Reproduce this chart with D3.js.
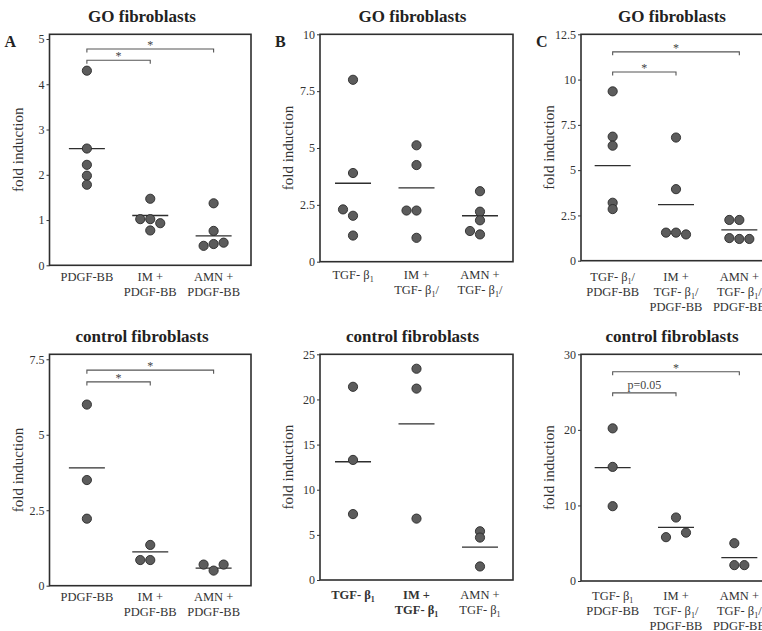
<!DOCTYPE html>
<html>
<head>
<meta charset="utf-8">
<script src="https://cdn.jsdelivr.net/npm/d3@7"></script>
<style>
  body { margin: 0; background: #fff; }
</style>
</head>
<body>
<div id="chart"></div>
<script>
// ---- data ----
// "_1" inside a label means a subscript 1

// A: GO fibroblasts, PDGF-BB
var goPdgfCats = [["PDGF-BB"], ["IM +", "PDGF-BB"], ["AMN +", "PDGF-BB"]];
var goPdgfValues = [[4.3, 2.58, 2.22, 1.98, 1.78], [1.47, 1.02, 1.02, 0.93, 0.77], [1.37, 0.76, 0.43, 0.47, 0.5]];
var goPdgfSlots = [[0, 0, 0, 0, 0], [0, -1, 0, 1, 0], [0, 0, -1, 0, 1]];
var goPdgfMeans = [2.58, 1.1, 0.65];
var goPdgfTicks = [0, 1, 2, 3, 4, 5];
var goPdgfSig = [[0, 2, 4.78, "*"], [0, 1, 4.53, "*"]];

// B: GO fibroblasts, TGF-b1
var goTgfCats = [["TGF- β_1"], ["IM +", "TGF- β_1/"], ["AMN +", "TGF- β_1/"]];
var goTgfValues = [[8.0, 3.9, 2.3, 2.02, 1.15], [5.12, 4.25, 2.25, 2.25, 1.05], [3.1, 2.2, 1.82, 1.35, 1.2]];
var goTgfSlots = [[0, 0, -1, 0, 0], [0, 0, -1, 0, 0], [0, 0, 0, -1, 0]];
var goTgfMeans = [3.45, 3.25, 2.02];
var goTgfTicks = [0, 2.5, 5, 7.5, 10];
var goTgfSig = [];

// C: GO fibroblasts, TGF-b1/PDGF-BB
var goBothCats = [["TGF- β_1/", "PDGF-BB"], ["IM +", "TGF- β_1/", "PDGF-BB"], ["AMN +", "TGF- β_1/", "PDGF-BB"]];
var goBothValues = [[9.35, 6.85, 6.35, 3.2, 2.85], [6.8, 3.95, 1.55, 1.55, 1.45], [2.25, 2.25, 1.25, 1.2, 1.2]];
var goBothSlots = [[0, 0, 0, 0, 0], [0, 0, -1, 0, 1], [-1, 0, -1, 0, 1]];
var goBothMeans = [5.25, 3.1, 1.7];
var goBothTicks = [0, 2.5, 5, 7.5, 10, 12.5];
var goBothSig = [[0, 2, 11.53, "*"], [0, 1, 10.42, "*"]];

// D: control fibroblasts, PDGF-BB
var ctlPdgfCats = [["PDGF-BB"], ["IM +", "PDGF-BB"], ["AMN +", "PDGF-BB"]];
var ctlPdgfValues = [[6.0, 3.5, 2.22], [1.35, 0.85, 0.85], [0.7, 0.5, 0.7]];
var ctlPdgfSlots = [[0, 0, 0], [0, -1, 0], [-1, 0, 1]];
var ctlPdgfMeans = [3.9, 1.12, 0.58];
var ctlPdgfTicks = [0, 2.5, 5, 7.5];
var ctlPdgfSig = [[0, 2, 7.14, "*"], [0, 1, 6.75, "*"]];

// E: control fibroblasts, TGF-b1
var ctlTgfCats = [["TGF- β_1"], ["IM +", "TGF- β_1"], ["AMN +", "TGF- β_1"]];
var ctlTgfValues = [[21.4, 13.3, 7.3], [23.4, 21.2, 6.8], [5.4, 4.7, 1.5]];
var ctlTgfSlots = [[0, 0, 0], [0, 0, 0], [0, 0, 0]];
var ctlTgfMeans = [13.1, 17.3, 3.65];
var ctlTgfTicks = [0, 5, 10, 15, 20, 25];
var ctlTgfSig = [];

// F: control fibroblasts, TGF-b1/PDGF-BB
var ctlBothCats = [["TGF- β_1", "PDGF-BB"], ["IM +", "TGF- β_1/", "PDGF-BB"], ["AMN +", "TGF- β_1/", "PDGF-BB"]];
var ctlBothValues = [[20.2, 15.1, 9.9], [8.4, 5.8, 6.4], [5.0, 2.1, 2.1]];
var ctlBothSlots = [[0, 0, 0], [0, -1, 1], [-0.5, -0.5, 0.5]];
var ctlBothMeans = [15.0, 7.1, 3.1];
var ctlBothTicks = [0, 10, 20, 30];
var ctlBothSig = [[0, 2, 27.7, "*"], [0, 1, 24.9, "p=0.05"]];

// ---- layout ----
var width = 762, height = 631;
var serif = "'Liberation Serif', 'Times New Roman', serif";

var svg = d3.select("#chart")
  .append("svg")
    .attr("width", width)
    .attr("height", height);

var panels = [
  {title: "GO fibroblasts", letter: "A", x0: 49.5, x1: 251, y0: 34.3, y1: 265.3, max: 5.104, pad: 0.59, labelY: 281,
   cats: goPdgfCats, values: goPdgfValues, slots: goPdgfSlots, means: goPdgfMeans, ticks: goPdgfTicks, sig: goPdgfSig},
  {title: "GO fibroblasts", letter: "B", x0: 320, x1: 513, y0: 34.3, y1: 261.7, max: 10, pad: 0.52, labelY: 279,
   cats: goTgfCats, values: goTgfValues, slots: goTgfSlots, means: goTgfMeans, ticks: goTgfTicks, sig: goTgfSig},
  {title: "GO fibroblasts", letter: "C", x0: 581, x1: 771, y0: 34.3, y1: 260.7, max: 12.5, pad: 0.5, labelY: 281,
   cats: goBothCats, values: goBothValues, slots: goBothSlots, means: goBothMeans, ticks: goBothTicks, sig: goBothSig},
  {title: "control fibroblasts", letter: "", x0: 49.5, x1: 251, y0: 354.3, y1: 585.7, max: 7.665, pad: 0.59, labelY: 601,
   cats: ctlPdgfCats, values: ctlPdgfValues, slots: ctlPdgfSlots, means: ctlPdgfMeans, ticks: ctlPdgfTicks, sig: ctlPdgfSig},
  {title: "control fibroblasts", letter: "", x0: 320, x1: 513, y0: 354.3, y1: 580, max: 25, pad: 0.52, labelY: 599, bold: [0, 1],
   cats: ctlTgfCats, values: ctlTgfValues, slots: ctlTgfSlots, means: ctlTgfMeans, ticks: ctlTgfTicks, sig: ctlTgfSig},
  {title: "control fibroblasts", letter: "", x0: 581, x1: 771, y0: 354.3, y1: 581, max: 30, pad: 0.5, labelY: 600,
   cats: ctlBothCats, values: ctlBothValues, slots: ctlBothSlots, means: ctlBothMeans, ticks: ctlBothTicks, sig: ctlBothSig}
];

var slotWidth = 10, meanHalf = 18;

// write a label line, turning "_1" into a small lowered 1
function writeLine(text, str) {
  var parts = str.split("_1");
  parts.forEach(function(p, i) {
    if (i > 0) {
      text.append("tspan").attr("font-size", 8).attr("dy", 3).text("1");
      if (p !== "") text.append("tspan").attr("dy", -3).text(p);
    } else if (p !== "") {
      text.append("tspan").text(p);
    }
  });
}

panels.forEach(function(p) {
  var g = svg.append("g");

  var x = d3.scalePoint()
    .domain(d3.range(p.cats.length))
    .range([p.x0, p.x1])
    .padding(p.pad);

  var y = d3.scaleLinear()
    .domain([0, p.max])
    .range([p.y1, p.y0]);

  // frame
  g.append("rect")
    .attr("x", p.x0)
    .attr("y", p.y0)
    .attr("width", p.x1 - p.x0)
    .attr("height", p.y1 - p.y0)
    .attr("fill", "none")
    .attr("stroke", "#2e2e2e")
    .attr("stroke-width", 1.6);

  // y axis
  var yAxis = d3.axisLeft(y)
    .tickValues(p.ticks)
    .tickSize(3)
    .tickPadding(2)
    .tickFormat(d3.format("~g"));

  var ax = g.append("g")
    .attr("transform", "translate(" + p.x0 + ",0)")
    .call(yAxis);
  ax.select(".domain").remove();
  ax.selectAll(".tick line").attr("stroke", "#333");
  ax.selectAll(".tick text")
    .attr("font-family", serif)
    .attr("font-size", 12)
    .attr("fill", "#333");

  // y label
  g.append("text")
    .attr("transform", "translate(" + (p.x0 - 27) + "," + ((p.y0 + p.y1) / 2) + ") rotate(-90)")
    .attr("text-anchor", "middle")
    .attr("font-family", serif)
    .attr("font-size", 15)
    .attr("fill", "#333")
    .text("fold induction");

  // title
  g.append("text")
    .attr("x", (p.x0 + Math.min(p.x1, p.x0 + 193)) / 2 - 4)
    .attr("y", p.y0 - 12)
    .attr("text-anchor", "middle")
    .attr("font-family", serif)
    .attr("font-size", 17)
    .attr("font-weight", "bold")
    .attr("fill", "#222")
    .text(p.title);

  // panel letter
  if (p.letter) {
    g.append("text")
      .attr("x", p.x0 - 45)
      .attr("y", p.y0 + 12.5)
      .attr("font-family", serif)
      .attr("font-size", 16)
      .attr("font-weight", "bold")
      .attr("fill", "#222")
      .text(p.letter);
  }

  // category labels
  p.cats.forEach(function(lines, ci) {
    lines.forEach(function(line, li) {
      var t = g.append("text")
        .attr("x", x(ci))
        .attr("y", p.labelY + li * 15)
        .attr("text-anchor", "middle")
        .attr("font-family", serif)
        .attr("font-size", 12.5)
        .attr("fill", "#333")
        .attr("font-weight", p.bold && p.bold.indexOf(ci) >= 0 ? "bold" : "normal");
      writeLine(t, line);
    });
  });

  // significance brackets
  p.sig.forEach(function(s) {
    var xa = x(s[0]), xb = x(s[1]), yy = y(s[2]);
    g.append("path")
      .attr("d", "M" + xa + "," + (yy + 3.5) + "V" + yy + "H" + xb + "V" + (yy + 3.5))
      .attr("fill", "none")
      .attr("stroke", "#555")
      .attr("stroke-width", 1.1);
    g.append("text")
      .attr("x", (xa + xb) / 2)
      .attr("y", s[3] === "*" ? yy : yy - 3.5)
      .attr("text-anchor", "middle")
      .attr("font-family", serif)
      .attr("font-size", 12)
      .attr("fill", "#444")
      .text(s[3]);
  });

  // mean lines
  g.selectAll("line.mean")
    .data(p.means)
    .enter()
    .append("line")
    .attr("class", "mean")
    .attr("x1", function(d, i) { return x(i) - meanHalf; })
    .attr("x2", function(d, i) { return x(i) + meanHalf; })
    .attr("y1", function(d) { return y(d); })
    .attr("y2", function(d) { return y(d); })
    .attr("stroke", "#2e2e2e")
    .attr("stroke-width", 1.3);

  // dots
  var pts = [];
  p.values.forEach(function(vals, ci) {
    vals.forEach(function(v, k) {
      pts.push({cat: ci, value: v, slot: p.slots[ci][k]});
    });
  });

  g.selectAll("circle.dot")
    .data(pts)
    .enter()
    .append("circle")
    .attr("class", "dot")
    .attr("cx", function(d) { return x(d.cat) + d.slot * slotWidth; })
    .attr("cy", function(d) { return y(d.value); })
    .attr("r", 4.6)
    .attr("fill", "#5c5c5c")
    .attr("stroke", "#2a2a2a")
    .attr("stroke-width", 0.9);
});
</script>
</body>
</html>
